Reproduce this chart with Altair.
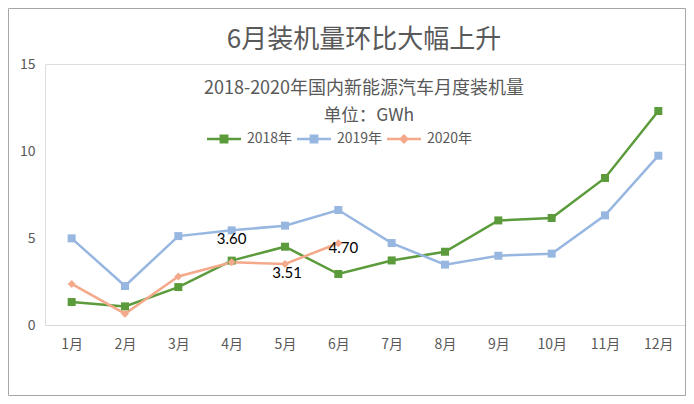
import altair as alt
import pandas as pd

months = ["1月", "2月", "3月", "4月", "5月", "6月", "7月", "8月", "9月", "10月", "11月", "12月"]
years = ["2018年", "2019年", "2020年"]
v2018 = [1.32, 1.07, 2.18, 3.70, 4.50, 2.93, 3.71, 4.21, 6.01, 6.15, 8.45, 12.30]
v2019 = [4.98, 2.24, 5.11, 5.44, 5.71, 6.61, 4.71, 3.47, 3.98, 4.10, 6.30, 9.73]
v2020 = [2.36, 0.65, 2.79, 3.60, 3.51, 4.70]
y_ticks = [0, 5, 10, 15]

title_text = "6月装机量环比大幅上升"
subtitle_text = "2018-2020年国内新能源汽车月度装机量"
unit_text = "单位：GWh"

colors = ["#5B9B3B", "#97B7E1", "#F3A98A"]

rows = []
for yr, vals in zip(years, [v2018, v2019, v2020]):
    for m, v in zip(months, vals):
        rows.append({"month": m, "year": yr, "value": v})
df = pd.DataFrame(rows)

FONT = "Noto Sans CJK SC"
GRAY = "#595959"

x_enc = alt.X("month:N", sort=months, title=None,
              axis=alt.Axis(labelAngle=0, ticks=False, domainColor="#D9D9D9", domainWidth=1,
                            labelColor=GRAY, labelFontSize=14, labelFont=FONT, labelPadding=12))
y_enc = alt.Y("value:Q", title=None, scale=alt.Scale(domain=[0, 15], nice=False),
              axis=alt.Axis(values=y_ticks, grid=False, domain=False, ticks=False,
                            labelColor=GRAY, labelFontSize=14, labelFont=FONT, labelPadding=10))
color_scale = alt.Scale(domain=years, range=colors)

base = alt.Chart(df)

lines = base.mark_line(strokeWidth=2.5).encode(
    x=x_enc, y=y_enc, color=alt.Color("year:N", scale=color_scale, legend=None))

points = base.mark_point(filled=True, size=64, opacity=1).encode(
    x=x_enc, y=y_enc,
    color=alt.Color("year:N", scale=color_scale, legend=None),
    shape=alt.Shape("year:N", scale=alt.Scale(domain=years, range=["square", "square", "diamond"]),
                    legend=None))

path_sq = "M-1,-0.075L1,-0.075L1,0.075L-1,0.075Z M-0.26,-0.26L0.26,-0.26L0.26,0.26L-0.26,0.26Z"
path_di = "M-1,-0.075L1,-0.075L1,0.075L-1,0.075Z M0,-0.3L0.3,0L0,0.3L-0.3,0Z"

leg = alt.Legend(title=None, orient="none", legendX=162, legendY=58,
                 direction="horizontal", symbolSize=1156, labelFontSize=14,
                 labelFont=FONT, labelColor=GRAY, labelOffset=6,
                 columnPadding=4, symbolStrokeWidth=0)

legend_layer = base.transform_filter(alt.datum.value < -999).mark_point(filled=True, opacity=1).encode(
    x=x_enc, y=y_enc,
    color=alt.Color("year:N", scale=color_scale, legend=leg),
    shape=alt.Shape("year:N", scale=alt.Scale(domain=years, range=[path_sq, path_sq, path_di]),
                    legend=leg))

d2020 = df[df["year"] == "2020年"]
lab_base = alt.Chart(d2020)
lab_specs = [("4月", 0, -23), ("5月", 2, 9), ("6月", 5, 5)]
label_layers = []
for m, dx, dy in lab_specs:
    label_layers.append(
        lab_base.transform_filter(alt.datum.month == m).mark_text(
            font="Lato", fontSize=15, color="#000000", dx=dx, dy=dy, baseline="middle"
        ).encode(x=x_enc, y=y_enc, text=alt.Text("value:Q", format=".2f")))

def text_layer(txt, x, y, size):
    return alt.Chart(pd.DataFrame({"t": [txt]})).mark_text(
        font=FONT, fontSize=size, color=GRAY, align="center", baseline="middle"
    ).encode(text="t:N", x=alt.value(x), y=alt.value(y))

title_l = text_layer(title_text, 319, -24, 26)
sub_l = text_layer(subtitle_text, 319, 25, 18)
unit_l = text_layer(unit_text, 324, 52, 17.5)

border = alt.Chart(pd.DataFrame({"b": [1]})).mark_rect(
    fillOpacity=0, stroke="#A6A6A6", strokeWidth=1
).encode(x=alt.value(-36.5), x2=alt.value(640.5), y=alt.value(-55.5), y2=alt.value(331.5))

chart = alt.layer(
    border, lines, points, legend_layer, *label_layers, title_l, sub_l, unit_l
).resolve_scale(
    shape="independent", color="independent"
).properties(
    width=640, height=261,
    autosize=alt.AutoSizeParams(type="none"),
    padding={"left": 37, "top": 56, "right": 1, "bottom": 71},
).configure_view(stroke=None).configure(background="white")

chart.save("out.html", embed_options={"renderer": "svg", "actions": False})
